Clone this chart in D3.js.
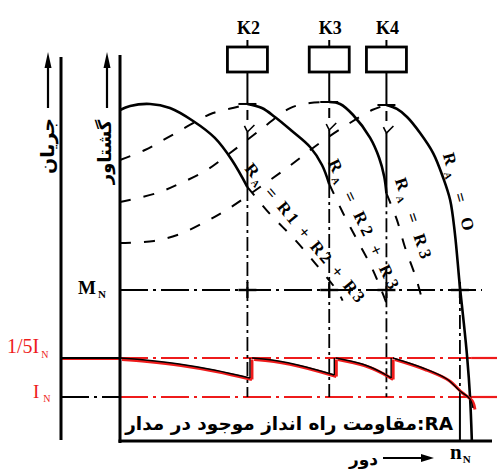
<!DOCTYPE html>
<html><head><meta charset="utf-8">
<script src="https://cdn.jsdelivr.net/npm/d3@7"></script>
<style>body{margin:0;background:#fff}svg{display:block}</style>
</head><body>
<svg id="c" width="497" height="471"></svg>
<script>
// ---------- data ----------
const kLabels = ["K2", "K3", "K4"];
const kSpeeds = [35.2, 57.8, 73.6];           // switching speeds (% of scale)
const ratedSpeed = 93.9;                       // n_N
const ratedTorque = 100;                       // M_N (torque in % of M_N)
const currentLevels = [150, 100];              // 1/5 I_N and I_N (current in % of I_N)
const raLabels = ["R1 + R2 + R3", "R2 + R3", "R3", "O"];

// solid torque–speed segments [speed, torque]
const solidR123 = [[0,219.2],[2.8,221.9],[8.3,223.2],[13.8,220.5],[20.2,211.9],[26.2,200.7],[30.9,186.1],[35.2,168.2]];
const solidR23  = [[35.2,223.2],[39.2,220.5],[42.8,214.6],[47.5,205.3],[52.5,194.7],[55.8,182.8],[57.8,170.2]];
const solidR3   = [[57.8,224.5],[60.8,223.2],[64.4,215.9],[69.1,200.7],[71.6,187.4],[73.0,175.0],[73.6,164.0]];
const solidR0   = [[73.6,222.5],[76.5,219.9],[79.3,214.6],[82.9,204.0],[86.5,190.7],[89.2,174.8],[91.2,159.6],[92.5,137.7],[93.9,102.0],[94.8,82.1],[95.9,55.6],[96.7,29.1],[97.2,0]];

// dashed rising parts (low speed)
const riseR23 = [[0,186.1],[6.9,192.7],[13.0,200.7],[19.3,209.3],[25.7,217.2],[32.3,221.2],[35.2,223.2]];
const riseR3  = [[0,158.3],[10.2,164.2],[16.9,170.9],[24.0,179.5],[30.4,190.7],[38.7,205.9],[47.0,220.5],[52.5,223.8],[57.8,224.5]];
const riseR0  = [[0,131.1],[9.4,132.5],[16.6,137.1],[23.5,145.0],[29.8,153.6],[38.7,168.2],[47.2,182.8],[55.2,197.4],[63.5,210.6],[69.6,219.2],[73.6,222.5]];

// dashed continuations (beyond switching)
const contR123 = [[35.2,168.2],[41.4,150.4],[47.9,134.4],[54.1,117.2],[60.2,98.7],[61.5,93]];
const contR23  = [[57.8,170.2],[61.6,151.0],[65.5,133.1],[69.6,114.6],[72.4,98.7],[73.5,92]];
const contR3   = [[73.6,164.0],[76.5,146.4],[78.7,128.5],[81.5,109.9],[82.9,98.7],[83.5,93]];

// current segments [speed, current %]
const curSeg1 = [[0,150],[6.9,147.4],[16.3,142.3],[26.0,134.6],[35.9,124.4]];
const curSeg2 = [[36.5,150],[42.0,147.4],[51.4,138.5],[59.2,128.2]];
const curSeg3 = [[59.6,150],[66.9,142.3],[72.1,132.0],[74.9,124.4]];
const curSeg4 = [[75.4,150],[83.7,137.2],[90.3,123.1],[93.9,107.7],[96.7,97.4],[97.5,85.9]];
const jumpSpeeds = [35.9, 59.2, 74.9];
const jumpLows = [124.4, 128.2, 124.4];

// ---------- drawing ----------
const svg = d3.select("#c");
const x  = d3.scaleLinear().domain([0,100]).range([120,482]);
const yT = d3.scaleLinear().domain([0,100]).range([441,290]);
const yI = d3.scaleLinear().domain([100,150]).range([397,358]);
const RED = "#ee1b1b", BLK = "#000";
const SERIF = "'Liberation Serif','Times New Roman',serif";
const ARAB = "'DejaVu Sans',sans-serif";
const currentAxisX = 61, torqueAxisX = x(0), baseY = yT(0), rightEdge = 497;
const DD = "28,5,3,5";

const lineT = d3.line().x(d=>x(d[0])).y(d=>yT(d[1])).curve(d3.curveCatmullRom.alpha(0.5));
const lineI = d3.line().x(d=>x(d[0])).y(d=>yI(d[1])).curve(d3.curveCatmullRom.alpha(0.5));

function ln(g, x1,y1,x2,y2, col, w, dash){
  return g.append("line").attr("x1",x1).attr("y1",y1).attr("x2",x2).attr("y2",y2)
    .attr("stroke",col).attr("stroke-width",w).attr("stroke-dasharray",dash||null);
}

const g = svg.append("g");

// current reference levels
currentLevels.forEach((lv,i)=>{
  const yy = yI(lv);
  if(i===0){ ln(g,currentAxisX,yy+1,torqueAxisX,yy+1,RED,2); ln(g,currentAxisX,yy,torqueAxisX,yy,BLK,2.2); }
  else ln(g,currentAxisX,yy,torqueAxisX,yy,BLK,1.8,DD);
  ln(g,torqueAxisX,yy,x(97),yy,RED,2.2,DD);
  ln(g,x(97),yy,rightEdge,yy,RED,2.2);
});

// M_N level
ln(g,torqueAxisX,yT(ratedTorque),x(100),yT(ratedTorque),BLK,2,DD);
kSpeeds.concat([ratedSpeed]).forEach(s=>{
  ln(g,x(s)-9,yT(ratedTorque),x(s)+9,yT(ratedTorque),BLK,2.4);
  ln(g,x(s),yT(ratedTorque)-8,x(s),yT(ratedTorque)+8,BLK,2.2);
});

// n_N line
ln(g,x(ratedSpeed),yT(ratedTorque),x(ratedSpeed),yI(100),BLK,1.8,"14,4,3,4");
ln(g,x(ratedSpeed),yI(100),x(ratedSpeed),baseY,BLK,2);

// stems with contactor boxes
const solids = [solidR123, solidR23, solidR3, solidR0];
kSpeeds.forEach((s,i)=>{
  const sx = x(s);
  const yTop = yT(solids[i+1][0][1]);
  const yEnd = yT(solids[i][solids[i].length-1][1]);
  ln(g,sx,40,sx,47,BLK,2);
  g.append("rect").attr("x",sx-20).attr("y",47).attr("width",40).attr("height",25)
    .attr("fill","#fff").attr("stroke",BLK).attr("stroke-width",2.8);
  ln(g,sx,72,sx,yTop,BLK,2);
  ln(g,sx-9,yTop,sx+9,yTop,BLK,2);
  ln(g,sx,yTop+6,sx,yTop+16,BLK,2);
  g.append("polyline").attr("points",`${sx-3},${yTop+22} ${sx},${yTop+28} ${sx+7},${yTop+21}`)
    .attr("fill","none").attr("stroke",BLK).attr("stroke-width",1.6);
  ln(g,sx,yTop+28,sx,yEnd,BLK,2);
  ln(g,sx,yEnd,sx,yI(100),BLK,1.8,"14,4,3,4");
  g.append("text").attr("x",sx+1).attr("y",34).attr("text-anchor","middle")
    .attr("font-family",SERIF).attr("font-weight","bold").attr("font-size",18).text(kLabels[i]);
});

// dashed curves
[riseR23, riseR3, riseR0, contR123, contR23, contR3].forEach(d=>{
  g.append("path").attr("d",lineT(d)).attr("fill","none").attr("stroke",BLK)
    .attr("stroke-width",2).attr("stroke-dasharray","11,13");
});
// solid curves
solids.forEach(d=>{
  g.append("path").attr("d",lineT(d)).attr("fill","none").attr("stroke",BLK).attr("stroke-width",2.6);
});

// current curve (red print + black line)
const segs = [curSeg1, curSeg2, curSeg3, curSeg4];
[[RED,3,"translate(2,1.5)"],[BLK,1.4,null]].forEach(([col,w,tr])=>{
  const gg = g.append("g").attr("transform",tr);
  segs.forEach(d=>gg.append("path").attr("d",lineI(d)).attr("fill","none").attr("stroke",col).attr("stroke-width",w));
  jumpSpeeds.forEach((s,i)=>ln(gg,x(s),yI(jumpLows[i]),x(s),yI(150),col,w));
});

// R_A labels along the curves
const labelSpecs = [
  {path: contR123, along: -16, perp: -9},
  {path: contR23,  along: -20, perp: -8},
  {path: contR3,   along: -10, perp: -12},
  {path: solidR0.slice(4,8), along: 4, perp: -9}
];
const labelLens = [176, 142, 84, 80];
labelSpecs.forEach((sp,i)=>{
  const a = sp.path[0], b = sp.path[sp.path.length-1];
  const x0 = x(a[0]), y0 = yT(a[1]);
  const ang = Math.atan2(yT(b[1])-y0, x(b[0])-x0)*180/Math.PI;
  const t = g.append("text").attr("transform",`translate(${x0},${y0}) rotate(${ang})`)
    .attr("x",sp.along).attr("y",sp.perp)
    .attr("font-family",SERIF).attr("font-weight","bold").attr("font-size",17)
    .attr("textLength",labelLens[i]).attr("lengthAdjust","spacing");
  t.append("tspan").text("R");
  t.append("tspan").attr("font-size",10).attr("dy",4).text("A");
  t.append("tspan").attr("dy",-4).text(" = " + raLabels[i]);
});

// axes
ln(g,currentAxisX,57,currentAxisX,440,BLK,3);
ln(g,torqueAxisX,55,torqueAxisX,baseY+2,BLK,3);
ln(g,torqueAxisX-1.5,baseY,492,baseY,BLK,3);
[48,107].forEach(ax=>{
  ln(g,ax,66,ax,108,BLK,2.2);
  g.append("path").attr("d",`M${ax},52 L${ax-3.5},68 L${ax+3.5},68 Z`).attr("fill",BLK);
});
g.append("text").attr("transform","translate(47,146) rotate(-90)").attr("text-anchor","middle")
  .attr("dominant-baseline","central").attr("font-family",ARAB).attr("font-weight","bold")
  .attr("font-size",19).text("جریان");
g.append("text").attr("transform","translate(104,152) rotate(-90)").attr("text-anchor","middle")
  .attr("dominant-baseline","central").attr("font-family",ARAB).attr("font-weight","bold")
  .attr("font-size",18).text("گشتاور");

// level labels
const mt = g.append("text").attr("x",78).attr("y",294).attr("font-family",SERIF).attr("font-weight","bold").attr("font-size",19);
mt.append("tspan").text("M"); mt.append("tspan").attr("font-size",11).attr("dx",2).attr("dy",4).text("N");
const l15 = g.append("text").attr("x",7).attr("y",353).attr("fill",RED).attr("font-family",SERIF).attr("font-size",20);
l15.append("tspan").text("1/5I"); l15.append("tspan").attr("font-size",10).attr("dx",2).attr("dy",5).text("N");
const lin = g.append("text").attr("x",33).attr("y",398).attr("fill",RED).attr("font-family",SERIF).attr("font-size",19);
lin.append("tspan").text("I"); lin.append("tspan").attr("font-size",10).attr("dx",4).attr("dy",4).text("N");
const nn = g.append("text").attr("x",450).attr("y",459).attr("font-family",SERIF).attr("font-weight","bold").attr("font-size",21);
nn.append("tspan").text("n"); nn.append("tspan").attr("font-size",11).attr("dx",1).attr("dy",4).text("N");

// bottom caption
const cap = g.append("text").attr("x",453).attr("y",430).attr("text-anchor","end")
  .attr("font-family",ARAB).attr("font-weight","bold").attr("font-size",16)
  .text("مقاومت راه انداز موجود در مدار:RA");
const w0 = cap.node().getComputedTextLength();
cap.attr("font-size", 16*328/w0);

// speed label + arrow
g.append("text").attr("x",378).attr("y",465).attr("text-anchor","end")
  .attr("font-family",ARAB).attr("font-weight","bold").attr("font-size",17).text("دور");
ln(g,383,458,424,458,BLK,2);
g.append("path").attr("d","M434,458 L421,454 L421,462 Z").attr("fill",BLK);
</script>
</body></html>
